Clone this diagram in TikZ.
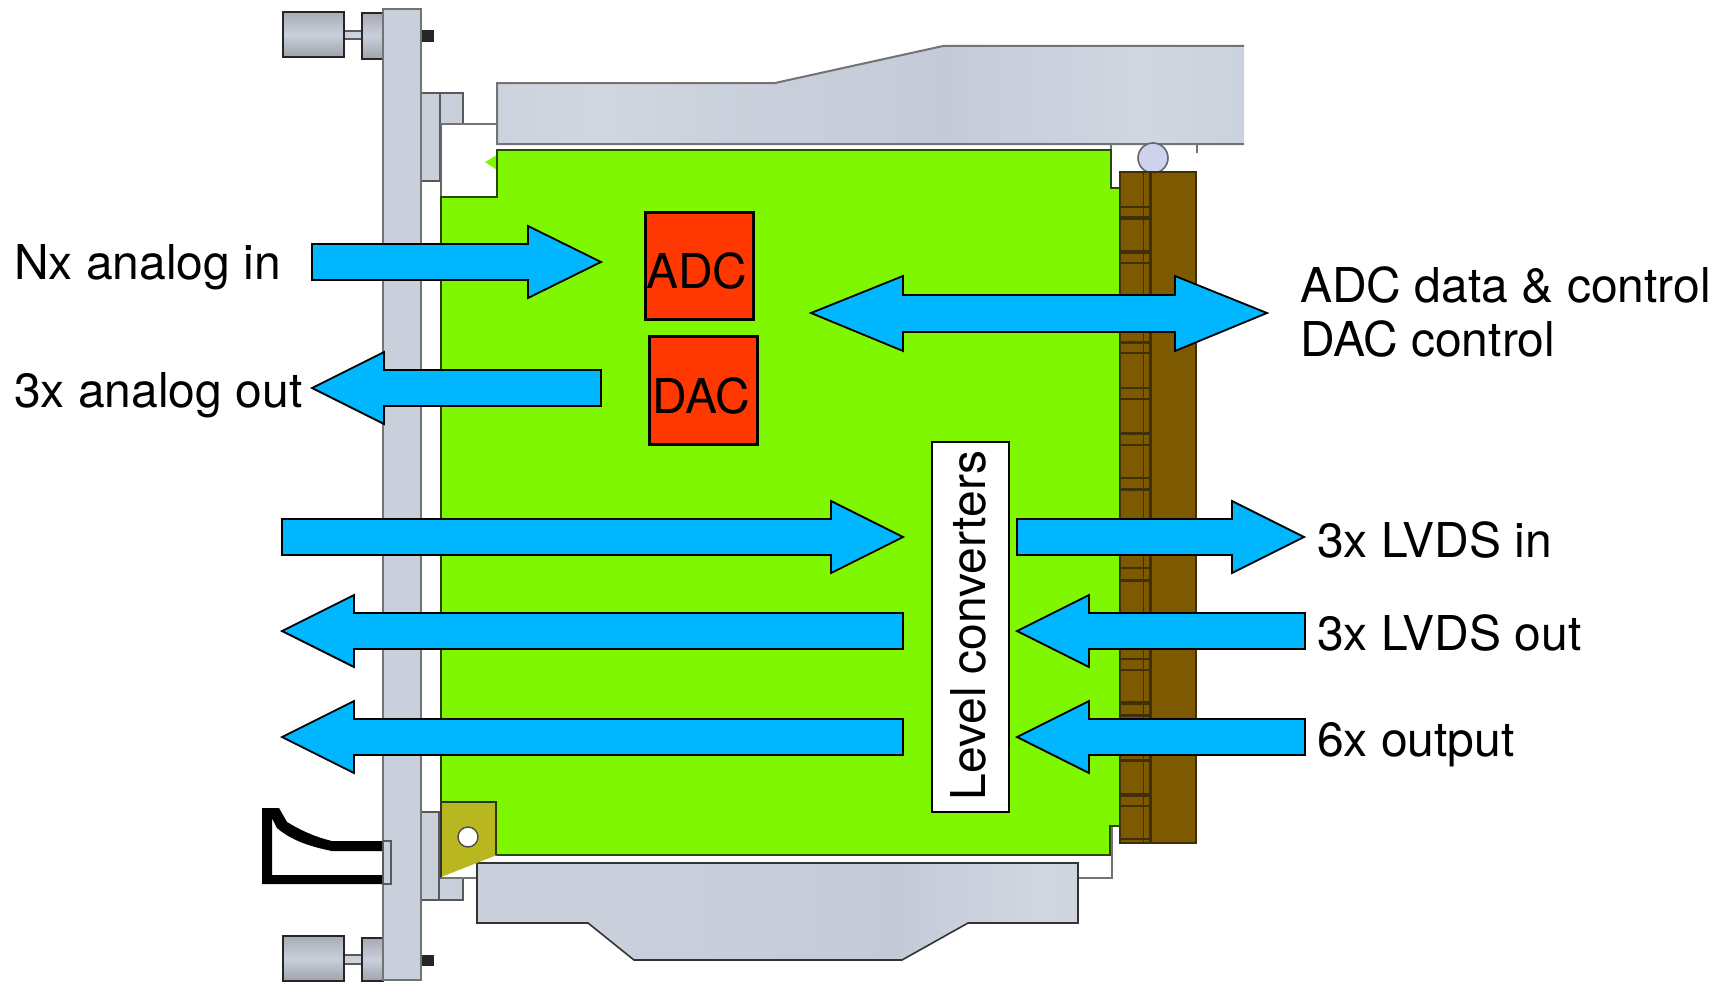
\documentclass[tikz,border=0pt]{standalone}
\usepackage{fontspec}
\setmainfont{TeX Gyre Heros}
\definecolor{metal}{HTML}{CAD0DB}
\definecolor{metalb}{HTML}{D1D7E1}
\definecolor{metald}{HTML}{C4CAD7}
\definecolor{board}{HTML}{7FF700}
\definecolor{conn}{HTML}{7D5A00}
\definecolor{connd}{HTML}{3F2F0A}
\definecolor{chip}{HTML}{FF3700}
\definecolor{flow}{HTML}{00B7FF}
\definecolor{brass}{HTML}{B9B720}
\definecolor{ball}{HTML}{CDD3EE}
\pgfdeclarehorizontalshading{railtop}{100bp}{
 color(0bp)=(metal); color(12bp)=(metald); color(20bp)=(metal); color(32bp)=(metalb); color(42bp)=(metal);
 color(55bp)=(metald); color(68bp)=(metalb); color(78bp)=(metal); color(88bp)=(metald); color(100bp)=(metal)}
\pgfdeclarehorizontalshading{railbot}{100bp}{
 color(0bp)=(metal); color(35bp)=(metal); color(60bp)=(metald); color(72bp)=(metalb); color(85bp)=(metal); color(93bp)=(metald); color(100bp)=(metal)}
\tikzset{
 part/.style={fill=metal,draw=black!65,line width=1.6},
 rim/.style={draw=black!55,line width=2.6},
 knob/.style={top color=black!18!metal,bottom color=black!22!metal,middle color=metal,draw=black!85,line width=1.6},
 flowarrow/.style={fill=flow,draw=black,line width=1.8,line join=miter,miter limit=8},
 chipbox/.style={draw=black,fill=chip,line width=3,inner sep=0pt,outer sep=0pt,font=\fontsize{48}{48}\selectfont},
 levelbox/.style={draw=black,fill=white,line width=2.2,inner sep=0pt,rotate=90,font=\fontsize{48}{48}\selectfont,minimum width=370,text height=53,text depth=24},
 lab/.style={anchor=base west,inner sep=0pt,font=\fontsize{48}{48}\selectfont},
 rib/.style={draw=connd,line width=1.5}
}
% #1 tail x, #2 head base x, #3 tip x, #4 centre y
\newcommand{\flowarrowpath}[4]{\draw[flowarrow] (#1,{#4-18}) -- (#2,{#4-18}) -- (#2,{#4-36}) -- (#3,#4) -- (#2,{#4+36}) -- (#2,{#4+18}) -- (#1,{#4+18}) -- cycle;}
\begin{document}
\begin{tikzpicture}[x=1pt,y=-1pt]
\useasboundingbox (0,0) rectangle (1723,982);
\fill[white] (0,0) rectangle (1723,982);
% top knob and panel
\fill[black!85] (421,30) rectangle (434,42);
\draw[part,top color=metal,bottom color=metalb] (344,31) rectangle (362,39);
\draw[knob] (283,12) rectangle (344,57);
\draw[knob] (362,13) rectangle (383,59);
% bottom knob
\fill[black!85] (421,955) rectangle (434,966);
\draw[part,top color=metal,bottom color=metalb] (344,955) rectangle (362,964);
\draw[knob] (283,936) rectangle (344,981);
\draw[knob] (362,938) rectangle (383,981);
% brackets
\draw[part] (440,93) rectangle (463,124);
\draw[part] (421,93) rectangle (440,181);
\draw[part] (439,878) rectangle (463,900);
\draw[part] (421,812) rectangle (439,900);
% front panel
\draw[rim,fill=metal] (383,9) rectangle (421,980);
% thin frame lines
\draw[draw=black!55,line width=2.6] (440,124) -- (498,124);
\draw[draw=black!60,line width=2] (441,124) -- (441,197);
\draw[draw=black!55,line width=1.8] (1111,144) -- (1111,188) -- (1120,188);
\draw[draw=black!55,line width=1.6] (1120,826) -- (1112,826) -- (1112,878) -- (1078,878);
\draw[draw=black!55,line width=1.2] (441,878) -- (477,878);
\draw[draw=black!55,line width=1.4] (1197,144) -- (1197,153);
% rails
\path[shading=railtop,shading angle=0] (497,83) -- (775,83) -- (943,46) -- (1244,46) -- (1244,144) -- (497,144) -- cycle;
\draw[draw=black!55,line width=2] (1244,144) -- (497,144) -- (497,83) -- (775,83) -- (943,46) -- (1244,46);
\path[shading=railbot,shading angle=0] (477,863) -- (1078,863) -- (1078,923) -- (968,923) -- (902,960) -- (634,960) -- (588,923) -- (477,923) -- cycle;
\draw[draw=black!80,line width=1.6] (477,863) -- (1078,863) -- (1078,923) -- (968,923) -- (902,960) -- (634,960) -- (588,923) -- (477,923) -- cycle;
% board
\fill[board] (497,155) -- (485,162) -- (497,170) -- cycle;
\draw[fill=board,draw=black!70!board,line width=1.6] (497,150) -- (1111,150) -- (1111,188) -- (1120,188) -- (1120,826) -- (1110,826) -- (1110,855) -- (441,855) -- (441,197) -- (497,197) -- cycle;
% corner block
\draw[fill=brass,draw=none] (441,802) -- (497,802) -- (497,855) -- (441,877) -- cycle;
\draw[draw=black!80,line width=1.2] (441,877) -- (441,802) -- (497,802);
\draw[draw=black!70!brass,line width=2.4] (496,802) -- (496,855);
\draw[fill=white,draw=black!70,line width=1.4] (468,837) circle (10);
% ball
\draw[fill=ball,draw=black!60,line width=1.6] (1153,158) circle (15);
% connector
\draw[fill=conn,draw=connd,line width=1.6] (1120,172) rectangle (1196,843);
\draw[rib,line width=1] (1143.5,172) -- (1143.5,843);
\draw[rib,line width=3] (1150.5,172) -- (1150.5,843);
\foreach \yy/\w in {207/1.5,218/3.5,252/3.5,263/1.5,297/1.5,308/3,342/3,353/1.5,388/2.5,399/1.5,433/3,445/1.5,478/2.5,489/3,523/1.5,534/2,568/1.5,580/3,614/2,625/1.5,659/1.5,670/1.5,703/4,715/3,760/3,795/3.5,806/1.5,839/1.5}
  \draw[rib,line width=\w] (1120,\yy) -- (1152,\yy);
% handle
\fill[black] (262,808) -- (279,808) -- (287,822) .. controls (300,830) and (315,837) .. (332,841) -- (383,841) -- (383,851) -- (332,851) .. controls (312,847) and (292,841) .. (277,828) -- (272,818) -- (272,875) -- (383,875) -- (383,884) -- (262,884) -- cycle;
\draw[part,line width=1.2] (383,841) rectangle (391,884);
% chips and level converters
\node[chipbox,minimum width=108,minimum height=107,text height=75.5,text depth=31.5] (adc) at (699.5,266) {ADC\kern5.5pt};
\node[chipbox,minimum width=108,minimum height=108,text height=76.5,text depth=31.5] (dac) at (703.5,390.5) {DAC\kern4.4pt};
\node[levelbox] (level) at (970.5,627) {\kern3pt Level converters};
% arrows
\flowarrowpath{312}{528}{601}{262}
\flowarrowpath{601}{384}{312}{388}
\draw[flowarrow] (811,313) -- (903,276) -- (903,295) -- (1175,295) -- (1175,276) -- (1267,313) -- (1175,351) -- (1175,332) -- (903,332) -- (903,351) -- cycle;
\flowarrowpath{282}{831}{903}{537}
\flowarrowpath{1017}{1232}{1304}{537}
\flowarrowpath{903}{354}{282}{631}
\flowarrowpath{1305}{1089}{1017}{631}
\flowarrowpath{903}{354}{282}{737}
\flowarrowpath{1305}{1089}{1017}{737}
% labels
\node[lab] (l1) at (14,279) {Nx analog in};
\node[lab] (l2) at (14,407) {3x analog out};
\node[lab] (l3) at (1300,302) {ADC data \& control};
\node[lab] (l4) at (1300,356) {DAC control};
\node[lab] (l5) at (1317,557) {3x LVDS in};
\node[lab] (l6) at (1317,650) {3x LVDS out};
\node[lab] (l7) at (1317,756) {6x output};
\end{tikzpicture}
\end{document}
